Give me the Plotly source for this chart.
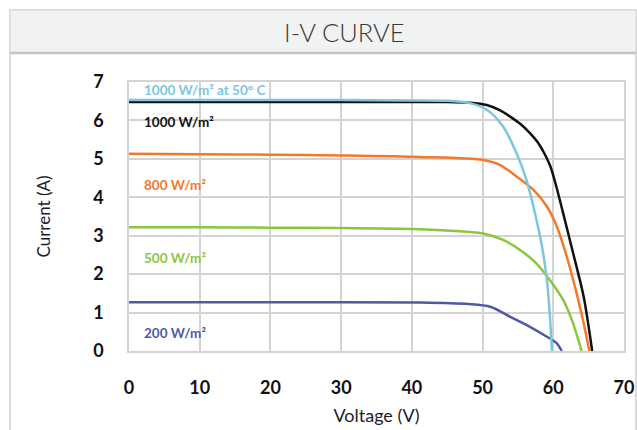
import plotly.graph_objects as go

# ---- data ----
v_1000_50 = [0, 10, 20, 30, 40, 45, 48.2, 50.6, 52.9, 54.8, 56.2, 57.4, 58.4, 59.1, 59.5, 59.8]
i_1000_50 = [6.53, 6.53, 6.53, 6.53, 6.52, 6.51, 6.45, 6.28, 5.84, 5.15, 4.45, 3.59, 2.72, 1.85, 0.98, 0]

v_1000 = [0, 10, 20, 30, 40, 45, 48.2, 50.6, 52.5, 53.9, 55.4, 56.7, 57.8, 58.8, 59.6, 60.4, 61.4, 62.8, 64.3, 65.5]
i_1000 = [6.48, 6.48, 6.48, 6.48, 6.48, 6.48, 6.46, 6.4, 6.26, 6.1, 5.9, 5.67, 5.43, 5.12, 4.8, 4.3, 3.58, 2.55, 1.41, 0]

v_800 = [0, 10, 20, 30, 41.2, 50.1, 52.5, 54.8, 57.2, 59.1, 60.5, 61.9, 63.3, 64.3, 65.1]
i_800 = [5.13, 5.12, 5.11, 5.09, 5.05, 4.97, 4.84, 4.54, 4.19, 3.76, 3.24, 2.46, 1.5, 0.72, 0]

v_500 = [0, 10, 20, 30, 41.2, 50.1, 52.9, 55.3, 57.6, 59.5, 61.4, 62.8, 64.0]
i_500 = [3.22, 3.22, 3.21, 3.2, 3.17, 3.06, 2.89, 2.63, 2.28, 1.85, 1.33, 0.72, 0]

v_200 = [0, 20, 41.2, 48, 51.1, 53.9, 56.7, 59.1, 60.5, 61.2]
i_200 = [1.27, 1.27, 1.26, 1.22, 1.15, 0.89, 0.63, 0.37, 0.2, 0]

series_names = ["200 W/m²", "500 W/m²", "800 W/m²", "1000 W/m²", "1000 W/m² at 50° C"]
label_y = [0.47, 2.42, 4.32, 5.96, 6.8]
colors = ["#5059a8", "#8cc63e", "#f4792a", "#111111", "#7cc6de"]
x_ticks = [0, 10, 20, 30, 40, 50, 60, 70]
y_ticks = [0, 1, 2, 3, 4, 5, 6, 7]

xs = [v_200, v_500, v_800, v_1000, v_1000_50]
ys = [i_200, i_500, i_800, i_1000, i_1000_50]

W, H = 637, 430
L, R, T, B = 129, 624, 82, 351

def px(x):
    return (x - L) / (R - L)

def py(y):
    return (B - y) / (B - T)

fig = go.Figure()
for x, y, n, c in zip(xs, ys, series_names, colors):
    fig.add_trace(go.Scatter(x=x, y=y, mode="lines", name=n,
                             line=dict(color=c, width=2.5, shape="spline", smoothing=0.8),
                             hoverinfo="skip"))

for n, ly, c in zip(series_names, label_y, colors):
    fig.add_annotation(x=1.9, y=ly, xref="x", yref="y", text=n, showarrow=False,
                       xanchor="left", yanchor="middle",
                       font=dict(family="Lato", size=13.5, color=c, weight="bold"))

fig.add_shape(type="rect", xref="paper", yref="paper", x0=px(10), x1=px(636), y0=py(470), y1=py(10),
              line=dict(color="#cfcfcf", width=1.5), fillcolor="rgba(0,0,0,0)", layer="below")
fig.add_shape(type="rect", xref="paper", yref="paper", x0=px(10), x1=px(636), y0=py(53), y1=py(10),
              line=dict(color="#d6d6d6", width=1), fillcolor="#f1f2f2", layer="below")
fig.add_shape(type="line", xref="paper", yref="paper", x0=px(10), x1=px(636), y0=py(53), y1=py(53),
              line=dict(color="#c4c4c4", width=2.5))
fig.add_annotation(xref="paper", yref="paper", x=px(344), y=py(32), text="I-V CURVE", showarrow=False,
                   xanchor="center", yanchor="middle",
                   font=dict(family="Lato", size=25.5, color="#3a3a3a", weight=300))

tickfont = dict(family="Lato", size=18, color="#111", weight="bold")
fig.update_layout(
    width=W, height=H,
    margin=dict(l=L, r=W - R, t=T, b=H - B, pad=0, autoexpand=False),
    paper_bgcolor="white", plot_bgcolor="white",
    showlegend=False,
    xaxis=dict(range=[0, 70], tickvals=x_ticks, showgrid=True, gridcolor="#d3d3d3", gridwidth=1.5,
               showline=True, mirror=True, linecolor="#d3d3d3", linewidth=1.5, zeroline=False,
               automargin=False,
               ticks="", tickfont=tickfont, ticklabelstandoff=20,
               title=dict(text="Voltage (V)", font=dict(family="Lato", size=18, color="#1c1c2a"), standoff=12)),
    yaxis=dict(range=[0, 7], tickvals=y_ticks, showgrid=True, gridcolor="#d3d3d3", gridwidth=1.5,
               showline=True, mirror=True, linecolor="#d3d3d3", linewidth=1.5, zeroline=False,
               automargin=False,
               ticks="", tickfont=tickfont, ticklabelstandoff=20,
               title=dict(text="Current (A)", font=dict(family="Lato", size=17, color="#1c1c2a"), standoff=38)),
)

fig.write_html(
    "out.html",
    config={"displayModeBar": False},
    post_script="document.body.style.margin='0';document.body.style.overflow='hidden';"
                "document.documentElement.style.overflow='hidden';",
)
